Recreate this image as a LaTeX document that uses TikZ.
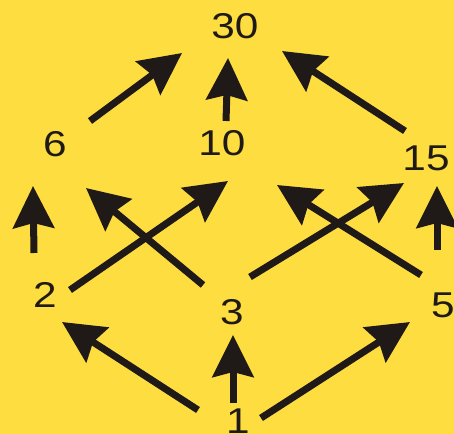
\documentclass[tikz,border=0pt]{standalone}
\usepackage{fontspec}
\setmainfont{Liberation Sans}
\usetikzlibrary{arrows.meta,calc}
\definecolor{bgyellow}{RGB}{253,221,64}
\definecolor{inkdark}{RGB}{31,26,23}
\newcommand\stretchnum[1]{\scalebox{1.18}[1]{#1}}
\tikzset{
  lab/.style={font=\fontsize{36}{36}\selectfont, inner sep=0pt, text=inkdark},
  arr/.style={draw=inkdark, line width=7bp, -{Stealth[length=42bp,width=41bp,inset=5bp]}}
}
\begin{document}
\begin{tikzpicture}[x=1bp,y=-1bp]
\fill[bgyellow] (0,0) rectangle (454,434);
\useasboundingbox (0,0) rectangle (454,434);
\node[lab] (n30) at (235,26) {\stretchnum{30}};
\node[lab] (n6)  at (55,144) {\stretchnum{6}};
\node[lab] (n10) at (222,143) {\stretchnum{10}};
\node[lab] (n15) at (426,158) {\stretchnum{15}};
\node[lab] (n2)  at (45,295) {\stretchnum{2}};
\node[lab] (n3)  at (232,312) {\stretchnum{3}};
\node[lab] (n5)  at (443,305) {\stretchnum{5}};
\node[lab] (n1)  at (238,421) {\stretchnum{1}};
% top level
\draw[arr] ($(n6)+(35,-23)$)  -- ($(n30)+(-53,27)$);
\draw[arr] ($(n10)+(4,-22)$)  -- ($(n30)+(-7,32)$);
\draw[arr] ($(n15)+(-21,-27)$) -- ($(n30)+(47,25)$);
% middle level
\draw[arr] ($(n2)+(-11,-42)$) -- ($(n6)+(-22,42)$);
\draw[arr] ($(n3)+(-29,-27)$) -- ($(n6)+(31,44)$);
\draw[arr] ($(n2)+(25,-5)$)   -- ($(n10)+(6,38)$);
\draw[arr] ($(n3)+(18,-35)$)  -- ($(n15)+(-22,25)$);
\draw[arr] ($(n5)+(-22,-30)$) -- ($(n10)+(55,42)$);
\draw[arr] ($(n5)+(-6,-55)$)  -- ($(n15)+(11,28)$);
% bottom level
\draw[arr] ($(n1)+(-40,-11)$) -- ($(n2)+(17,27)$);
\draw[arr] ($(n1)+(-5,-18)$)  -- ($(n3)+(1,23)$);
\draw[arr] ($(n1)+(23,-3)$)   -- ($(n5)+(-33,17)$);
\end{tikzpicture}
\end{document}
